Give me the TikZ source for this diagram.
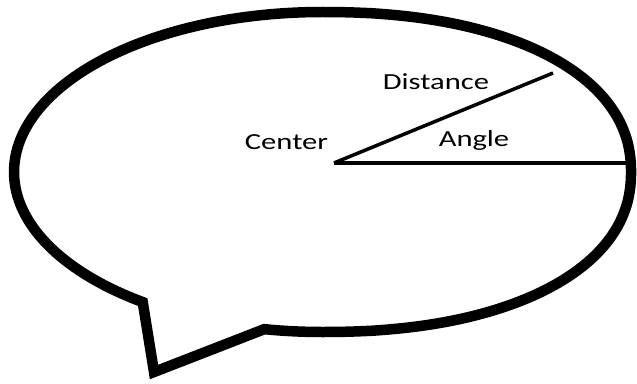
\documentclass[tikz,border=0pt]{standalone}
\usepackage{fontspec}
\setmainfont{Carlito}
\begin{document}
\begin{tikzpicture}[x=1pt,y=-1pt,
  bubble/.style={line width=10.5pt,line join=miter,miter limit=6},
  ray/.style={line width=3.5pt},
  baseray/.style={line width=4.5pt},
  lbl/.style={font=\fontsize{23}{27}\selectfont,inner sep=0pt,anchor=base,xscale=1.33}]
\useasboundingbox (0,0) rectangle (637,383);
% speech bubble outline with tail
\coordinate (tip) at (154,372);
\draw[bubble]
  plot[domain=100.8:90,samples=8] ({322+308*cos(\x)},{172+160*sin(\x)})
  -- plot[domain=89.95:-89.95,samples=120]
     ({322+309*pow(cos(\x),0.909)},{172+160*sign(sin(\x))*pow(abs(sin(\x)),0.909)})
  -- plot[domain=270:125.6,samples=90] ({322+308*cos(\x)},{172+160*sin(\x)})
  -- (tip) -- cycle;
% rays
\coordinate (ctr) at (334,163);
\coordinate (dend) at (553,73);
\coordinate (aend) at (627,163);
\draw[ray] (ctr) -- (dend);
\draw[baseray] (ctr) -- (aend);
% labels
\node[lbl] (lcenter) at (286.5,149) {Center};
\node[lbl] (ldist) at (436,89) {Distance};
\node[lbl] (langle) at (474,146) {Angle};
\end{tikzpicture}
\end{document}
